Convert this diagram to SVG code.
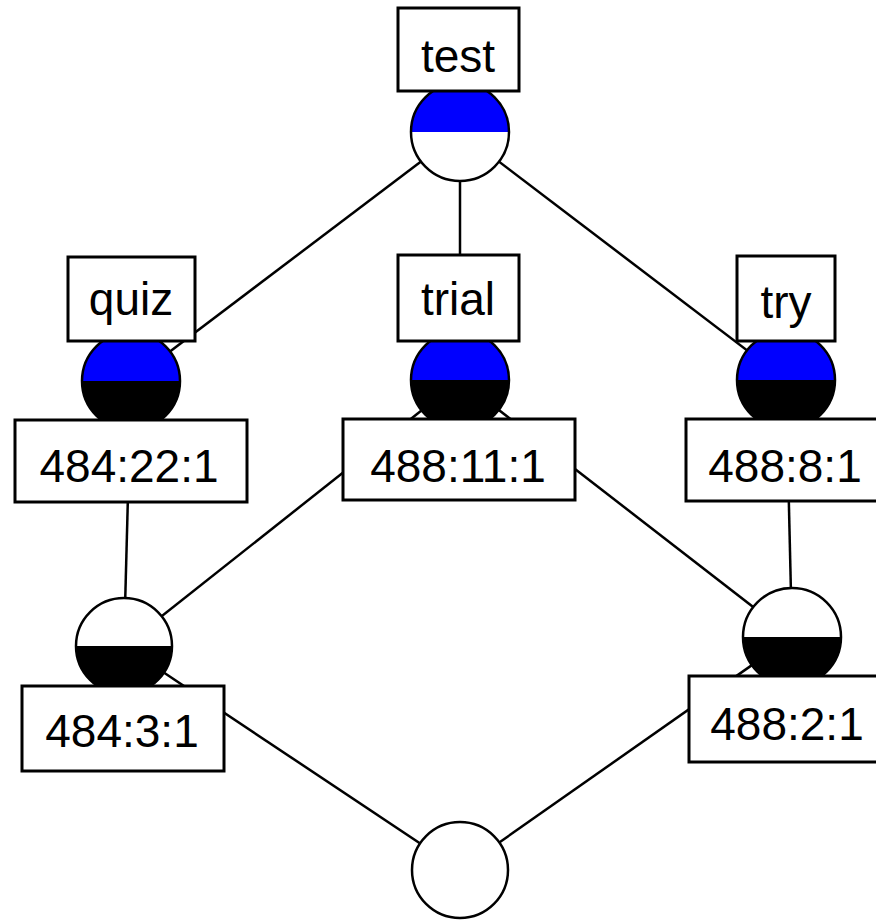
<svg xmlns="http://www.w3.org/2000/svg" width="876" height="921" viewBox="0 0 876 921">
<style>
.edge{stroke:#000;stroke-width:2.5;fill:none}
.ring{fill:none;stroke:#000;stroke-width:2.5}
.blue{fill:#0000ff}
.white{fill:#fff}
.black{fill:#000}
.box{fill:#fff;stroke:#000;stroke-width:3}
.lbl{font-family:"Liberation Sans",Arial,sans-serif;font-size:46px;fill:#000;text-anchor:middle}
</style>
<rect width="876" height="921" fill="#fff"/>
<g id="connectors">
<line class="edge" x1="460" y1="132" x2="131" y2="381"/>
<line class="edge" x1="460" y1="132" x2="460" y2="380"/>
<line class="edge" x1="460" y1="132" x2="786" y2="380"/>
<line class="edge" x1="131" y1="381" x2="124" y2="646"/>
<line class="edge" x1="460" y1="380" x2="124" y2="646"/>
<line class="edge" x1="460" y1="380" x2="792" y2="637"/>
<line class="edge" x1="786" y1="380" x2="792" y2="637"/>
<line class="edge" x1="124" y1="646" x2="460" y2="870"/>
<line class="edge" x1="792" y1="637" x2="460" y2="870"/>
</g>
<g id="node-test">
<path class="blue" d="M411,132 A49,49 0 0 1 509,132 Z"/>
<path class="white" d="M411,132 A49,49 0 0 0 509,132 Z"/>
<circle class="ring" cx="460" cy="132" r="49"/>
<rect class="box" x="398" y="8" width="121" height="83"/>
<text class="lbl" x="458" y="72">test</text>
</g>
<g id="node-quiz">
<path class="blue" d="M82,381 A49,49 0 0 1 180,381 Z"/>
<path class="black" d="M82,381 A49,49 0 0 0 180,381 Z"/>
<circle class="ring" cx="131" cy="381" r="49"/>
<rect class="box" x="68" y="257" width="127" height="84"/>
<text class="lbl" x="131" y="315">quiz</text>
<rect class="box" x="15" y="420" width="232" height="82"/>
<text class="lbl" x="129" y="482">484:22:1</text>
</g>
<g id="node-trial">
<path class="blue" d="M411,380 A49,49 0 0 1 509,380 Z"/>
<path class="black" d="M411,380 A49,49 0 0 0 509,380 Z"/>
<circle class="ring" cx="460" cy="380" r="49"/>
<rect class="box" x="398" y="255" width="121" height="86"/>
<text class="lbl" x="458" y="315">trial</text>
<rect class="box" x="343" y="419" width="232" height="81"/>
<text class="lbl" x="458" y="482">488:11:1</text>
</g>
<g id="node-try">
<path class="blue" d="M737,380 A49,49 0 0 1 835,380 Z"/>
<path class="black" d="M737,380 A49,49 0 0 0 835,380 Z"/>
<circle class="ring" cx="786" cy="380" r="49"/>
<rect class="box" x="737" y="256" width="98" height="85"/>
<text class="lbl" x="786" y="318">try</text>
<rect class="box" x="686" y="419" width="200" height="82"/>
<text class="lbl" x="785" y="482">488:8:1</text>
</g>
<g id="node-484-3-1">
<path class="white" d="M76,646 A48,48 0 0 1 172,646 Z"/>
<path class="black" d="M76,646 A48,48 0 0 0 172,646 Z"/>
<circle class="ring" cx="124" cy="646" r="48"/>
<rect class="box" x="22" y="686" width="202" height="85"/>
<text class="lbl" x="122" y="747">484:3:1</text>
</g>
<g id="node-488-2-1">
<path class="white" d="M743,637 A49,49 0 0 1 841,637 Z"/>
<path class="black" d="M743,637 A49,49 0 0 0 841,637 Z"/>
<circle class="ring" cx="792" cy="637" r="49"/>
<rect class="box" x="689" y="676" width="206" height="86"/>
<text class="lbl" x="787" y="740">488:2:1</text>
</g>
<g id="node-bottom">
<circle class="white" cx="460" cy="870" r="48"/>
<circle class="ring" cx="460" cy="870" r="48"/>
</g>
</svg>
